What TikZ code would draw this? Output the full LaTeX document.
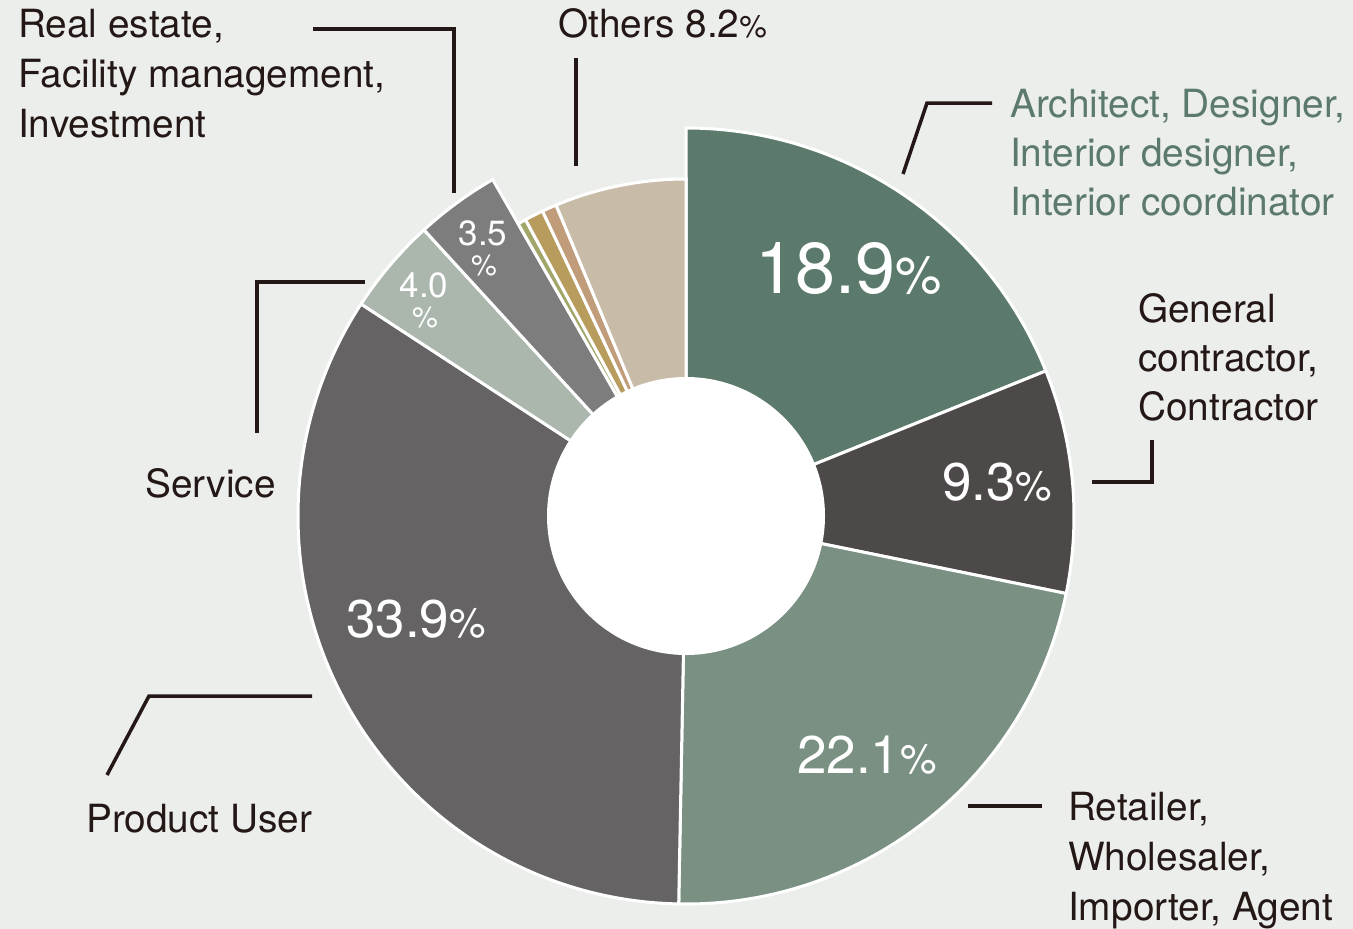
\documentclass[tikz,border=0pt]{standalone}
\usepackage{fontspec}
\setmainfont{TeX Gyre Heros}
\definecolor{bg}{HTML}{ECEEEB}
\definecolor{ink}{HTML}{231815}
\definecolor{cA}{HTML}{5B7A6B}
\definecolor{cB}{HTML}{4D4948}
\definecolor{cC}{HTML}{7A9083}
\definecolor{cD}{HTML}{656363}
\definecolor{cE}{HTML}{ABB6AD}
\definecolor{cF}{HTML}{7D7D7D}
\definecolor{cG}{HTML}{A3A66A}
\definecolor{cH}{HTML}{B89C5E}
\definecolor{cI}{HTML}{C19C7A}
\definecolor{cJ}{HTML}{C8BCA8}
\newcommand\myslice[4]{%
  \filldraw[fill=#4,draw=white,line width=3pt,line join=miter]
    (0,0) -- ({90-3.6*(#1)}:#3)
    arc[start angle={90-3.6*(#1)}, end angle={90-3.6*(#2)}, radius=#3] -- cycle;}
\tikzset{
  lbl/.style={font=\fontsize{38.8}{50}\selectfont, text=ink, inner sep=0pt, anchor=base west},
  lblg/.style={lbl, text=cA},
  pct/.style={text=white, inner sep=0pt, anchor=base west},
  pcts/.style={text=white, inner sep=0pt, anchor=base, font=\fontsize{35}{35}\selectfont},
  leader/.style={draw=ink, line width=3.5pt}
}
\begin{document}
\begin{tikzpicture}[x=1pt,y=-1pt]
\fill[bg] (0,0) rectangle (1353,929);
\useasboundingbox (0,0) rectangle (1353,929);

% donut
\begin{scope}[shift={(686,516)}]
\begin{scope}[y=1pt]
\myslice{0}{18.9}{388}{cA}
\myslice{18.9}{28.2}{388}{cB}
\myslice{28.2}{50.3}{388}{cC}
\myslice{50.3}{84.2}{388}{cD}
\myslice{84.2}{88.2}{388}{cE}
\myslice{88.2}{91.7}{388}{cF}
\myslice{91.7}{92.1}{337}{cG}
\myslice{92.1}{93.0}{337}{cH}
\myslice{93.0}{93.7}{337}{cI}
\myslice{93.7}{100}{337}{cJ}
\fill[white] (0,0) circle[radius=139];
\end{scope}
\end{scope}

% percentages inside
\node[pct, font=\fontsize{72}{72}\selectfont] (pA) at (755,293) {18.9{\fontsize{52}{52}\selectfont\%}};
\node[pct, font=\fontsize{53}{53}\selectfont] (pB) at (942,500) {9.3{\fontsize{41}{41}\selectfont\%}};
\node[pct, font=\fontsize{53}{53}\selectfont] (pC) at (797,773) {22.1{\fontsize{41}{41}\selectfont\%}};
\node[pct, font=\fontsize{53}{53}\selectfont] (pD) at (346,637) {33.9{\fontsize{41}{41}\selectfont\%}};
\node[pcts] (pE) at (424,297) {4.0};
\node[pcts, font=\fontsize{29}{29}\selectfont] (pEs) at (425,327) {\%};
\node[pcts] (pF) at (483,245) {3.5};
\node[pcts, font=\fontsize{29}{29}\selectfont] (pFs) at (484,275) {\%};

% labels
\node[lbl] (re1) at (18,37) {Real estate,};
\node[lbl] (re2) at (18,87) {Facility management,};
\node[lbl] (re3) at (18,137) {Investment};
\node[lbl] (oth) at (558,37) {Others 8.2{\fontsize{31}{31}\selectfont\%}};
\node[lblg] (ar1) at (1010,117) {Architect, Designer,};
\node[lblg] (ar2) at (1010,166) {Interior designer,};
\node[lblg] (ar3) at (1010,215) {Interior coordinator};
\node[lbl] (gc1) at (1138,322) {General};
\node[lbl] (gc2) at (1138,371) {contractor,};
\node[lbl] (gc3) at (1138,420) {Contractor};
\node[lbl] (rt1) at (1068,820) {Retailer,};
\node[lbl] (rt2) at (1068,870) {Wholesaler,};
\node[lbl] (rt3) at (1068,920) {Importer, Agent};
\node[lbl] (srv) at (145,497) {Service};
\node[lbl] (pu) at (86,832) {Product User};

% leader coordinates
\coordinate (reA) at (313,29); \coordinate (reB) at (454,29); \coordinate (reC) at (454,193);
\coordinate (otA) at (576,58); \coordinate (otB) at (576,166);
\coordinate (arA) at (903,174); \coordinate (arB) at (927,103); \coordinate (arC) at (992,103);
\coordinate (gcA) at (1092,482); \coordinate (gcB) at (1152,482); \coordinate (gcC) at (1152,440);
\coordinate (rtA) at (968,806); \coordinate (rtB) at (1042,806);
\coordinate (puA) at (107,775); \coordinate (puB) at (149,696); \coordinate (puC) at (312,696);
\coordinate (svA) at (257,433); \coordinate (svB) at (257,282); \coordinate (svC) at (365,282);

\draw[leader] (reA) -- (reB) -- (reC);
\draw[leader] (otA) -- (otB);
\draw[leader] (arA) -- (arB) -- (arC);
\draw[leader] (gcA) -- (gcB) -- (gcC);
\draw[leader] (rtA) -- (rtB);
\draw[leader] (puA) -- (puB) -- (puC);
\draw[leader] (svA) -- (svB) -- (svC);
\end{tikzpicture}
\end{document}
